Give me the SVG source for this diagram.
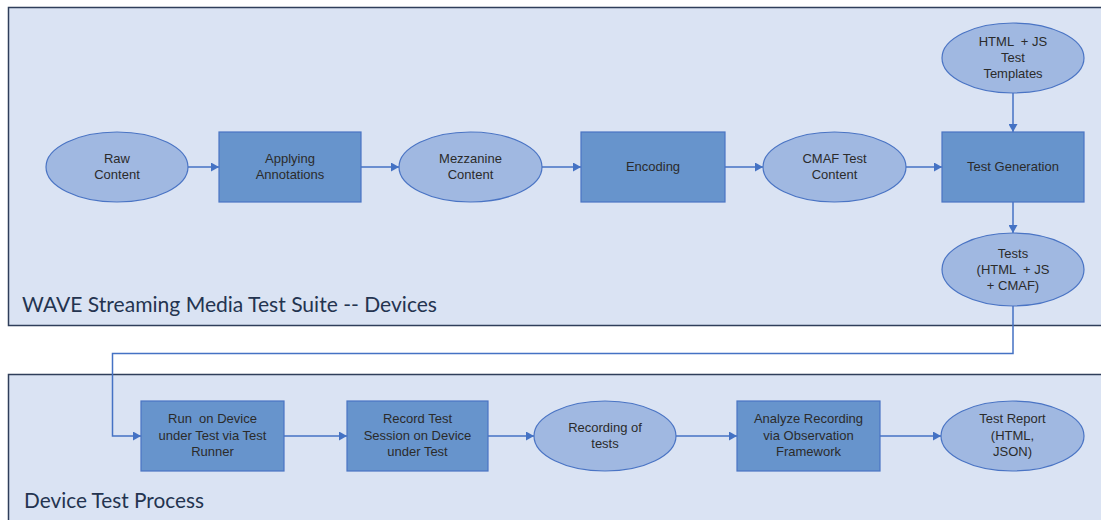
<svg xmlns="http://www.w3.org/2000/svg" width="1101" height="520" viewBox="0 0 1101 520">
<defs>
<style>
.cont{fill:#dae3f3;stroke:#2f3e5a;stroke-width:1.5}
.ell{fill:#a0b8e1;stroke:#4a74c4;stroke-width:1.2}
.box{fill:#6794cc;stroke:#4a74c4;stroke-width:1.2}
.lbl{font-family:"Liberation Sans",Arial,sans-serif;font-size:13px;fill:#2b2b2b;text-anchor:middle;white-space:pre}
.title{font-family:Lato,"Open Sans",sans-serif;font-size:21px;fill:#243450}
.con{fill:none;stroke:#4472c4;stroke-width:1.5}
</style>
<marker id="arr" markerWidth="9" markerHeight="9" refX="8" refY="4.5" orient="auto" markerUnits="userSpaceOnUse">
<path d="M0,0 L8,4.5 L0,9 Z" fill="#4472c4"/>
</marker>
</defs>
<rect width="1101" height="520" fill="#ffffff"/>
<g id="container-devices">
<rect class="cont" x="8.5" y="7.5" width="1100" height="318"/>
<text class="title" x="22" y="312" textLength="415" lengthAdjust="spacingAndGlyphs">WAVE Streaming Media Test Suite -- Devices</text>
</g>
<g id="container-process">
<rect class="cont" x="8.5" y="374.5" width="1100" height="160"/>
<text class="title" x="24" y="508" textLength="180" lengthAdjust="spacingAndGlyphs">Device Test Process</text>
</g>
<g id="connectors">
<line class="con" x1="188" y1="167" x2="219" y2="167" marker-end="url(#arr)"/>
<line class="con" x1="361" y1="167" x2="399" y2="167" marker-end="url(#arr)"/>
<line class="con" x1="542" y1="167" x2="581" y2="167" marker-end="url(#arr)"/>
<line class="con" x1="725" y1="167" x2="763" y2="167" marker-end="url(#arr)"/>
<line class="con" x1="906" y1="167" x2="942" y2="167" marker-end="url(#arr)"/>
<line class="con" x1="1013" y1="93" x2="1013" y2="132" marker-end="url(#arr)"/>
<line class="con" x1="1013" y1="202" x2="1013" y2="233" marker-end="url(#arr)"/>
<polyline class="con" points="1013,306 1013,353.5 112.5,353.5 112.5,436 141,436" marker-end="url(#arr)"/>
<line class="con" x1="284" y1="436" x2="347" y2="436" marker-end="url(#arr)"/>
<line class="con" x1="488" y1="436" x2="534" y2="436" marker-end="url(#arr)"/>
<line class="con" x1="676" y1="436" x2="737" y2="436" marker-end="url(#arr)"/>
<line class="con" x1="880" y1="436" x2="941" y2="436" marker-end="url(#arr)"/>
</g>
<g id="raw-content">
<ellipse class="ell" cx="117" cy="167" rx="71" ry="35"/>
<text class="lbl" x="117" y="163">Raw</text>
<text class="lbl" x="117" y="179">Content</text>
</g>
<g id="applying-annotations">
<rect class="box" x="219" y="132" width="142" height="70"/>
<text class="lbl" x="290" y="163">Applying</text>
<text class="lbl" x="290" y="179">Annotations</text>
</g>
<g id="mezzanine-content">
<ellipse class="ell" cx="470.5" cy="167" rx="71.5" ry="35"/>
<text class="lbl" x="470.5" y="163">Mezzanine</text>
<text class="lbl" x="470.5" y="179">Content</text>
</g>
<g id="encoding">
<rect class="box" x="581" y="132" width="144" height="70"/>
<text class="lbl" x="653" y="171">Encoding</text>
</g>
<g id="cmaf-test-content">
<ellipse class="ell" cx="834.5" cy="167" rx="71.5" ry="35"/>
<text class="lbl" x="834.5" y="163">CMAF Test</text>
<text class="lbl" x="834.5" y="179">Content</text>
</g>
<g id="test-generation">
<rect class="box" x="942" y="132" width="142" height="70"/>
<text class="lbl" x="1013" y="171">Test Generation</text>
</g>
<g id="test-templates">
<ellipse class="ell" cx="1013" cy="58" rx="71" ry="35"/>
<text class="lbl" x="1013" y="46">HTML  + JS</text>
<text class="lbl" x="1013" y="62">Test</text>
<text class="lbl" x="1013" y="78">Templates</text>
</g>
<g id="tests">
<ellipse class="ell" cx="1013" cy="269.5" rx="71" ry="36.5"/>
<text class="lbl" x="1013" y="258">Tests</text>
<text class="lbl" x="1013" y="274">(HTML  + JS</text>
<text class="lbl" x="1013" y="290">+ CMAF)</text>
</g>
<g id="run-on-device">
<rect class="box" x="141" y="401" width="143" height="70"/>
<text class="lbl" x="212.5" y="423">Run  on Device</text>
<text class="lbl" x="212.5" y="440">under Test via Test</text>
<text class="lbl" x="212.5" y="456">Runner</text>
</g>
<g id="record-test-session">
<rect class="box" x="347" y="401" width="141" height="70"/>
<text class="lbl" x="417.5" y="423">Record Test</text>
<text class="lbl" x="417.5" y="440">Session on Device</text>
<text class="lbl" x="417.5" y="456">under Test</text>
</g>
<g id="recording-of-tests">
<ellipse class="ell" cx="605" cy="436" rx="71" ry="35"/>
<text class="lbl" x="605" y="432">Recording of</text>
<text class="lbl" x="605" y="448">tests</text>
</g>
<g id="analyze-recording">
<rect class="box" x="737" y="401" width="143" height="70"/>
<text class="lbl" x="808.5" y="423">Analyze Recording</text>
<text class="lbl" x="808.5" y="440">via Observation</text>
<text class="lbl" x="808.5" y="456">Framework</text>
</g>
<g id="test-report">
<ellipse class="ell" cx="1012.5" cy="436" rx="71.5" ry="35"/>
<text class="lbl" x="1012.5" y="423">Test Report</text>
<text class="lbl" x="1012.5" y="440">(HTML,</text>
<text class="lbl" x="1012.5" y="456">JSON)</text>
</g>
</svg>
